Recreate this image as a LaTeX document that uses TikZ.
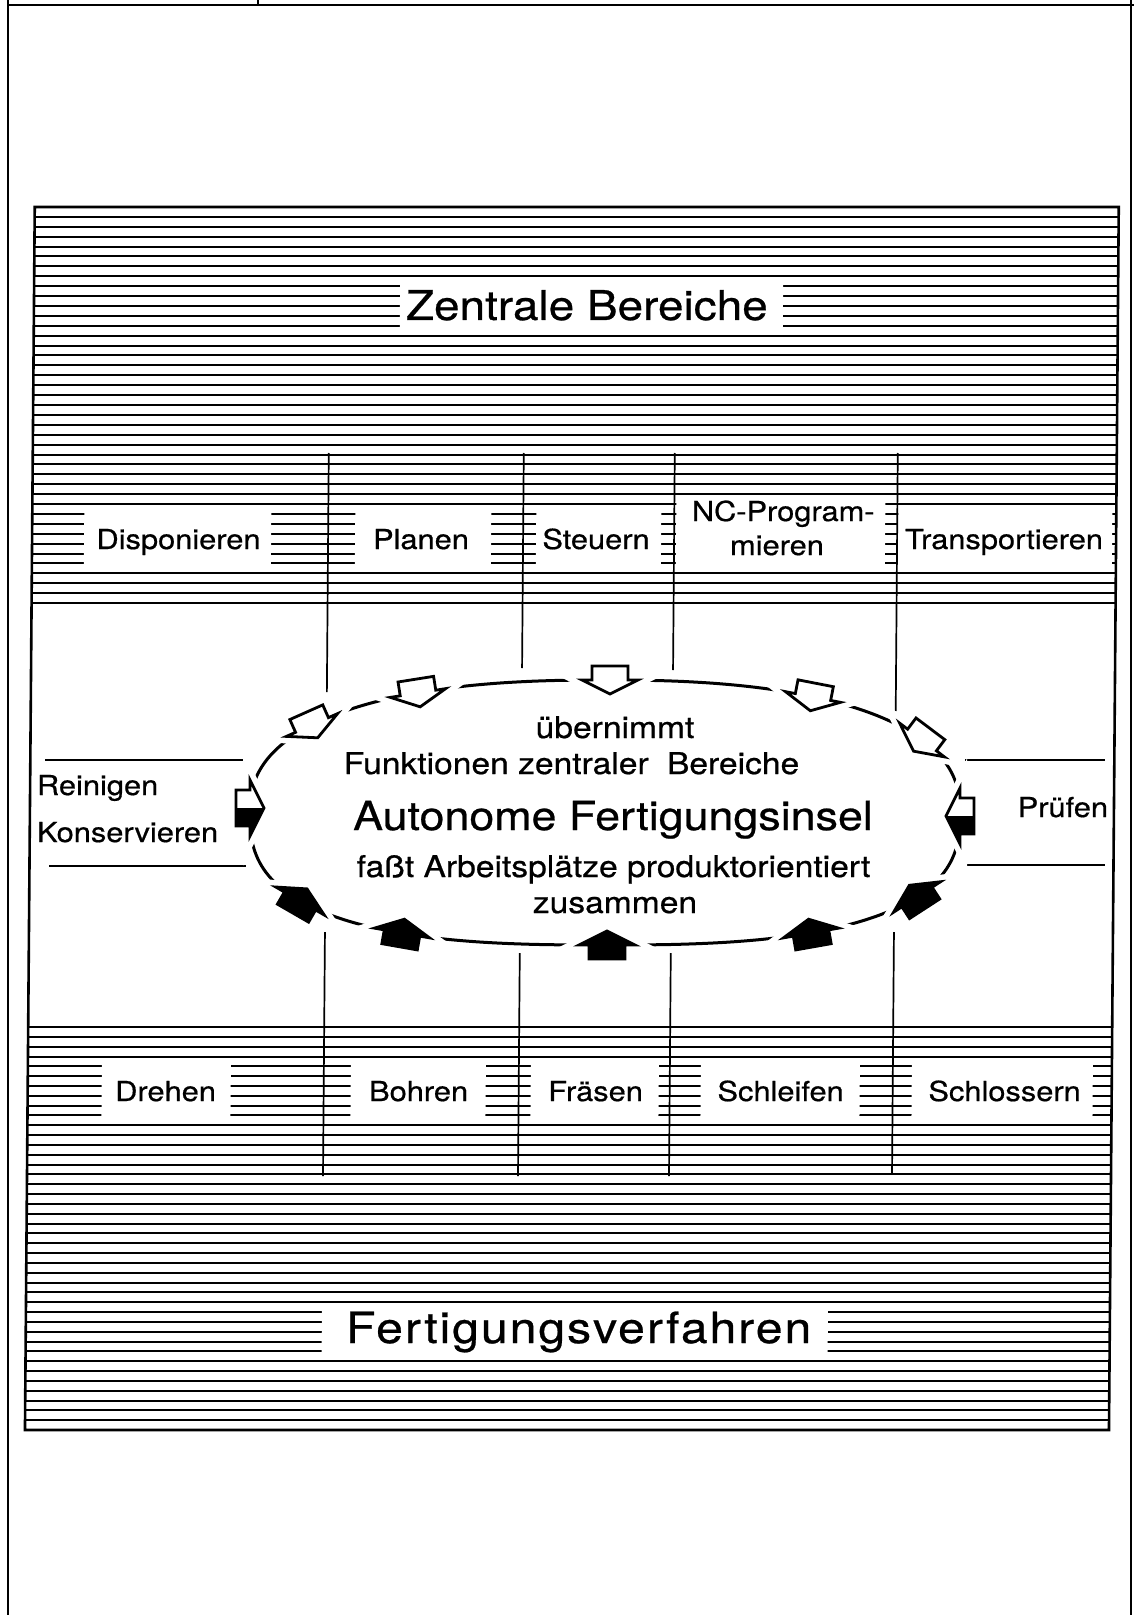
\documentclass[tikz,border=0pt]{standalone}
\usepackage{fontspec}
\setmainfont{TeX Gyre Heros}[FakeStretch=1.12, FakeBold=0.6]
\newfontfamily\spacedfont{TeX Gyre Heros}[FakeStretch=1.12, FakeBold=0.6, LetterSpace=4.5]
\newcommand\myarrowpath{(-14,-18) -- (0,-18) -- (0,-28) -- (14,0) -- (0,28) -- (0,18) -- (-14,18) -- cycle}
\tikzset{
  frame/.style={line width=1.3pt},
  hatch/.style={line width=1pt},
  rule/.style={line width=1.15pt},
  conn/.style={line width=0.85pt},
  ring/.style={line width=1.5pt},
  lbl/.style={font=\fontsize{13.75}{16}\selectfont, anchor=base},
  mid/.style={font=\fontsize{15}{18}\selectfont, anchor=base},
  pics/arrW/.style={code={
    \draw[white, line width=7pt] \myarrowpath;
    \draw[fill=white, line width=1.4pt] \myarrowpath;
  }},
  pics/arrB/.style={code={
    \draw[white, line width=7pt] \myarrowpath;
    \draw[fill=black, line width=1.4pt] \myarrowpath;
  }},
  pics/arrH/.style={code={
    \draw[white, line width=7pt] \myarrowpath;
    \fill[white] \myarrowpath;
    \fill[black] (-14,0) -- (14,0) -- (0,28) -- (0,18) -- (-14,18) -- cycle;
    \draw[line width=1.4pt] \myarrowpath;
  }},
}
\begin{document}
\begin{tikzpicture}[x=0.5pt, y=-0.5pt, every node/.style={inner sep=0pt, outer sep=0pt}]
\useasboundingbox (0,0) rectangle (1134,1615);
\fill[white] (0,0) rectangle (1134,1615);

% page frame
\draw[frame] (8,0) -- (8,1615);
\draw[frame] (1131,0) -- (1131,1615);
\draw[frame] (8,5) -- (1134,5);
\draw[frame] (258,0) -- (258,5);

\begin{scope}[xshift=3.2pt, xslant=0.008]
  % top hatched region
  \foreach \k in {1,...,39}{
    \draw[hatch] (30,{207+9.9*\k}) -- (1114,{207+9.9*\k});
  }
  \draw[rule] (30,603) -- (1114,603);
  % bottom hatched region
  \draw[rule] (30,1027) -- (1114,1027);
  \foreach \k in {1,...,40}{
    \draw[hatch] (30,{1027+9.83*\k}) -- (1114,{1027+9.83*\k});
  }
  % white label fields, top
  \fill[white] (396,281) rectangle (779,330);
  \fill[white] (82,509) rectangle (269,569);
  \fill[white] (353,509) rectangle (489,569);
  \fill[white] (534,509) rectangle (659,569);
  \fill[white] (674,499) rectangle (883,569);
  \fill[white] (896,509) rectangle (1110,569);
  % white label fields, bottom
  \fill[white] (104,1061) rectangle (233,1121);
  \fill[white] (353,1061) rectangle (488,1121);
  \fill[white] (533,1061) rectangle (661,1121);
  \fill[white] (703,1061) rectangle (862,1121);
  \fill[white] (914,1061) rectangle (1095,1121);
  \fill[white] (326,1306) rectangle (832,1355);

  % texts
  \node[anchor=base, font=\fontsize{20.5}{24}\selectfont] (zentral) at (583,320) {Zentrale Bereiche};
  \node[lbl] (dispo) at (176.5,549) {Disponieren};
  \node[lbl] (planen) at (419,549) {Planen};
  \node[lbl] (steuern) at (594,549) {Steuern};
  \node[lbl] (ncA) at (781,521) {NC-Program-};
  \node[lbl] (ncB) at (775,555) {mieren};
  \node[lbl] (transp) at (1002,549) {Transportieren};

  \node[lbl] (drehen) at (168,1101) {Drehen};
  \node[lbl] (bohren) at (421,1101) {Bohren};
  \node[lbl] (fraesen) at (598,1101) {Fräsen};
  \node[lbl] (schleifen) at (783,1101) {Schleifen};
  \node[lbl] (schlossern) at (1007,1101) {Schlossern};
  \node[anchor=base, font=\spacedfont\fontsize{21.5}{25}\selectfont] (fertig) at (583,1343) {Fertigungsverfahren};

  % vertical connectors
  \coordinate (ta1) at (326,453); \coordinate (tb1) at (326,692);
  \coordinate (ta2) at (521,453); \coordinate (tb2) at (521,668);
  \coordinate (ta3) at (672,453); \coordinate (tb3) at (672,670);
  \coordinate (ta4) at (895,453); \coordinate (tb4) at (895,711);
  \coordinate (ba1) at (326,932); \coordinate (bb1) at (326,1176);
  \coordinate (ba2) at (521,953); \coordinate (bb2) at (521,1176);
  \coordinate (ba3) at (672,953); \coordinate (bb3) at (672,1176);
  \coordinate (ba4) at (895,932); \coordinate (bb4) at (895,1174);
  \draw[conn] (ta1) -- (tb1);
  \draw[conn] (ta2) -- (tb2);
  \draw[conn] (ta3) -- (tb3);
  \draw[conn] (ta4) -- (tb4);
  \draw[conn] (ba1) -- (bb1);
  \draw[conn] (ba2) -- (bb2);
  \draw[conn] (ba3) -- (bb3);
  \draw[conn] (ba4) -- (bb4);

  % inner frame
  \draw[frame] (30,207) rectangle (1114,1430);
\end{scope}

% side rules
\draw[rule] (45,760) -- (247,760);
\draw[rule] (49,866) -- (246,866);
\draw[rule] (965,760) -- (1105,760);
\draw[rule] (965,865) -- (1105,865);
\node[lbl, anchor=base west] (reinigen) at (37,795) {Reinigen};
\node[lbl, anchor=base west] (konserv) at (37,842) {Konservieren};
\node[lbl, anchor=base east] (pruefen) at (1108,817) {Prüfen};

% island ring
\draw[ring]
  plot[smooth, domain=0.5:179.5, samples=120, variable=\t]
    ({605+355*cos(\t)*pow(abs(cos(\t)),-0.1667)}, {812.5-132.5*pow(abs(sin(\t)),0.8333)})
  -- plot[smooth, domain=180.5:359.5, samples=120, variable=\t]
    ({605+355*cos(\t)*pow(abs(cos(\t)),-0.2593)}, {812.5+132.5*pow(abs(sin(\t)),0.7407)})
  -- cycle;

% arrows on the ring
\pic[rotate=-66] at (312,725) {arrW};
\pic[rotate=-81] at (418,693) {arrW};
\pic[rotate=-90] at (610,680) {arrW};
\pic[rotate=-101] at (813,697) {arrW};
\pic[rotate=-127] at (922,740) {arrW};
\pic at (250,808) {arrH};
\pic[xscale=-1] at (960,816) {arrH};
\pic[rotate=60] at (300,901) {arrB};
\pic[rotate=80] at (402,933) {arrB};
\pic[rotate=90] at (607,945) {arrB};
\pic[rotate=100] at (811,933) {arrB};
\pic[rotate=123] at (917,897) {arrB};

% centre texts
\node[mid] (uebern) at (615,738) {übernimmt};
\node[mid] (funkt) at (571.5,774) {Funktionen zentraler\hspace{0.3em} Bereiche};
\node[anchor=base, font=\fontsize{20}{24}\selectfont] (autonom) at (613,830) {Autonome Fertigungsinsel};
\node[mid] (fasst) at (613.5,877) {faßt Arbeitsplätze produktorientiert};
\node[mid] (zusammen) at (615,913) {zusammen};
\end{tikzpicture}
\end{document}
